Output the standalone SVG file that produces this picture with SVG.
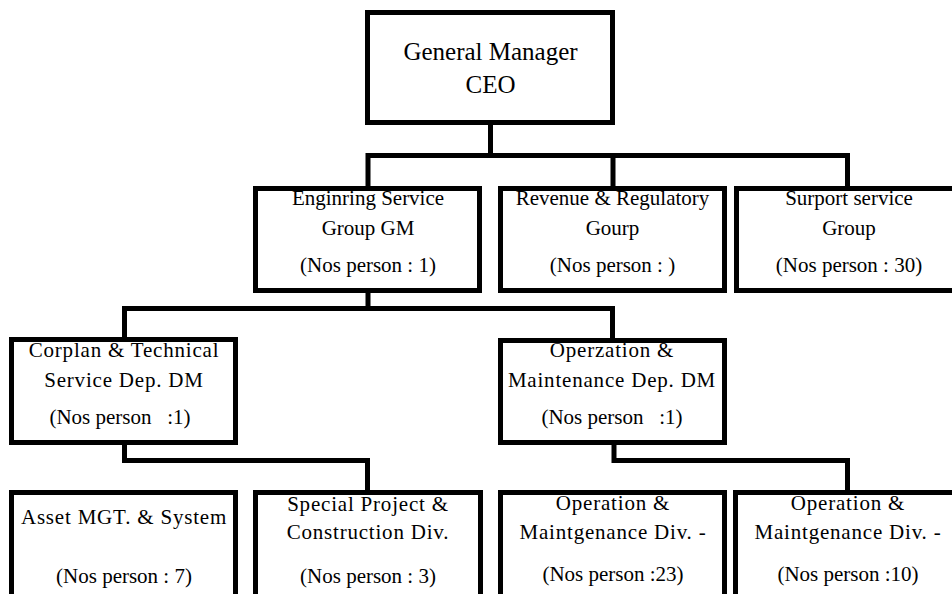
<svg xmlns="http://www.w3.org/2000/svg" width="952" height="594" viewBox="0 0 952 594" font-family="'Liberation Serif', 'DejaVu Serif', serif">
  <style>
    .box { fill: #ffffff; stroke: #000000; stroke-width: 5; }
    .link { fill: none; stroke: #000000; stroke-width: 5; stroke-linejoin: miter; stroke-linecap: square; }
    text { font-family: 'Liberation Serif', 'DejaVu Serif', serif; font-size: 21px; fill: #000000; text-anchor: middle; white-space: pre; }
    .top { font-size: 25px; }
    .sp { letter-spacing: 0.8px; }
  </style>
  <rect width="952" height="594" fill="#ffffff"/>

  <!-- connectors -->
  <g id="connectors">
    <path class="link" d="M490.5,125 V155.5 M368,155.5 H847.5 M368,155.5 V186 M613,155.5 V186 M847.5,155.5 V186"/>
    <path class="link" d="M368,293 V308.5 M124.5,308.5 H612.5 M124.5,308.5 V337 M612.5,308.5 V338"/>
    <path class="link" d="M124.5,445 V460.5 H367.5 V490"/>
    <path class="link" d="M614,445 V460.5 H847.5 V490"/>
  </g>

  <!-- top -->
  <g id="ceo">
    <rect class="box" x="367.5" y="12.5" width="245" height="110"/>
    <text class="top" x="490.5" y="60">General Manager</text>
    <text class="top" x="490.5" y="93">CEO</text>
  </g>

  <!-- second level -->
  <g id="engineering">
    <rect class="box" x="255.5" y="188.5" width="224" height="102"/>
    <text x="368" y="205">Enginring Service</text>
    <text x="368" y="235">Group GM</text>
    <text x="368" y="272">(Nos person : 1)</text>
  </g>
  <g id="revenue">
    <rect class="box" x="500.5" y="188.5" width="224" height="102"/>
    <text x="612.5" y="205">Revenue &amp; Regulatory</text>
    <text x="612.5" y="235">Gourp</text>
    <text x="612.5" y="272">(Nos person : )</text>
  </g>
  <g id="support">
    <rect class="box" x="736.5" y="188.5" width="224" height="102"/>
    <text x="849" y="205">Surport service</text>
    <text x="849" y="235">Group</text>
    <text x="849" y="272">(Nos person : 30)</text>
  </g>

  <!-- departments -->
  <g id="corplan">
    <rect class="box" x="11.5" y="339.5" width="224" height="103"/>
    <text class="sp" x="124" y="357">Corplan &amp; Technical</text>
    <text class="sp" x="124" y="387">Service Dep. DM</text>
    <text x="120" y="424">(Nos person   :1)</text>
  </g>
  <g id="operation-dep">
    <rect class="box" x="500.5" y="340.5" width="224" height="102"/>
    <text class="sp" x="612" y="357">Operzation &amp;</text>
    <text class="sp" x="612" y="387">Maintenance Dep. DM</text>
    <text x="612" y="424">(Nos person   :1)</text>
  </g>

  <!-- divisions -->
  <g id="asset">
    <rect class="box" x="11.5" y="492.5" width="224" height="120"/>
    <text class="sp" x="124" y="524">Asset MGT. &amp; System</text>
    <text x="124" y="583">(Nos person : 7)</text>
  </g>
  <g id="special-project">
    <rect class="box" x="255.5" y="492.5" width="225" height="120"/>
    <text class="sp" x="368" y="511">Special Project &amp;</text>
    <text class="sp" x="368" y="539">Construction Div.</text>
    <text x="368" y="583">(Nos person : 3)</text>
  </g>
  <g id="om-div-1">
    <rect class="box" x="500.5" y="492.5" width="224" height="120"/>
    <text class="sp" x="613" y="510">Operation &amp;</text>
    <text class="sp" x="613" y="539">Maintgenance Div. -</text>
    <text x="613" y="581">(Nos person :23)</text>
  </g>
  <g id="om-div-2">
    <rect class="box" x="735.5" y="492.5" width="225" height="120"/>
    <text class="sp" x="848" y="510">Operation &amp;</text>
    <text class="sp" x="848" y="539">Maintgenance Div. -</text>
    <text x="848" y="581">(Nos person :10)</text>
  </g>
</svg>
